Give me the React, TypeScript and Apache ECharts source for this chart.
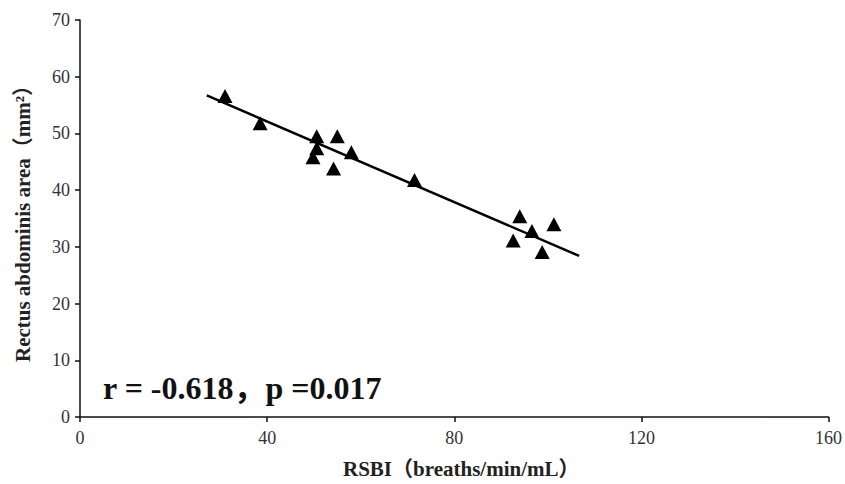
import React, { useEffect, useRef } from "react";
import * as echarts from "echarts";

const rsbi = [31, 38.5, 50.6, 50.6, 49.8, 54.2, 55, 58, 71.5, 92.6, 94, 96.6, 98.8, 101.3];
const rectusArea = [56.6, 51.8, 49.5, 47.4, 45.8, 43.8, 49.5, 46.7, 41.8, 31.1, 35.4, 32.8, 29.1, 34.0];
const trendX = [27.1, 106.7];
const trendY = [56.7, 28.4];
const xTicks = [0, 40, 80, 120, 160];
const yTicks = [0, 10, 20, 30, 40, 50, 60, 70];
const annotation = "r = -0.618，p =0.017";
const xName = "RSBI（breaths/min/mL）";
const yName = "Rectus abdominis area（mm²）";

const serif = "'Liberation Serif', 'Times New Roman', 'Noto Sans CJK SC', serif";

export default function App() {
  const ref = useRef<HTMLDivElement>(null);
  useEffect(() => {
    document.body.style.margin = "0";
    if (!ref.current) return;
    const chart = echarts.init(ref.current, undefined, { renderer: "svg" });
    chart.setOption({
      animation: false,
      backgroundColor: "#fff",
      grid: { left: 80, right: 15, top: 20, bottom: 64, containLabel: false },
      xAxis: {
        type: "value",
        min: xTicks[0],
        max: xTicks[xTicks.length - 1],
        interval: 40,
        name: xName,
        nameLocation: "middle",
        nameGap: 41,
        nameTextStyle: { fontFamily: serif, fontWeight: "bold", fontSize: 21, color: "#222", padding: [0, 0, 0, 14] },
        axisLine: { show: true, onZero: false, lineStyle: { color: "#111", width: 1.5 } },
        axisTick: { show: true, length: 5, inside: false, lineStyle: { color: "#111", width: 1.5 } },
        axisLabel: { fontFamily: serif, fontSize: 18, color: "#333", margin: 12 },
        splitLine: { show: false },
      },
      yAxis: {
        type: "value",
        min: yTicks[0],
        max: yTicks[yTicks.length - 1],
        interval: 10,
        name: yName,
        nameLocation: "middle",
        nameGap: 47,
        nameRotate: 90,
        nameTextStyle: { fontFamily: serif, fontWeight: "bold", fontSize: 21, color: "#222" },
        axisLine: { show: true, onZero: false, lineStyle: { color: "#111", width: 1.5 } },
        axisTick: { show: true, length: 5, inside: false, lineStyle: { color: "#111", width: 1.5 } },
        axisLabel: { fontFamily: serif, fontSize: 18, color: "#333", margin: 10 },
        splitLine: { show: false },
      },
      series: [
        {
          type: "line",
          data: trendX.map((x, i) => [x, trendY[i]]),
          symbol: "none",
          lineStyle: { color: "#000", width: 2.5 },
          z: 2,
        },
        {
          type: "scatter",
          data: rsbi.map((x, i) => [x, rectusArea[i]]),
          symbol: "triangle",
          symbolSize: [15, 14],
          itemStyle: { color: "#000", opacity: 1 },
          z: 3,
        },
      ],
      graphic: [
        {
          type: "text",
          left: 103,
          top: 372,
          style: {
            text: annotation,
            font: `bold 32px ${serif}`,
            fill: "#111",
          },
        },
      ],
    });
    return () => chart.dispose();
  }, []);
  return <div ref={ref} style={{ width: 845, height: 484 }} />;
}
